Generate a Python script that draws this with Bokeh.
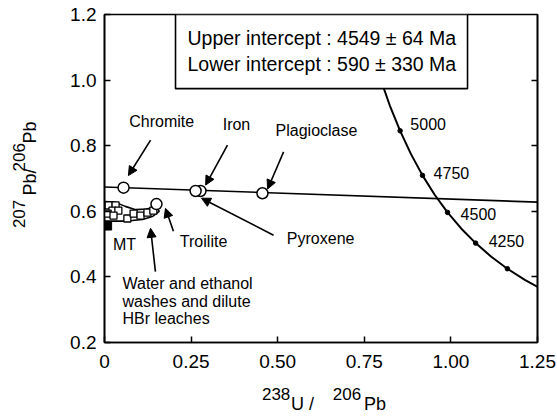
import math
from bokeh.plotting import figure
from bokeh.models import Range1d, LinearAxis, FixedTicker, Arrow, NormalHead, ColumnDataSource
from bokeh.core.properties import value
from bokeh.embed import file_html
from bokeh.resources import INLINE

FONT = "Liberation Sans"
NB = "\u00a0"

# ---- data ----
x_ticks = [0, 0.25, 0.5, 0.75, 1.0, 1.25]
x_tick_labels = ["0", "0.25", "0.50", "0.75", "1.00", "1.25"]
y_ticks = [0.2, 0.4, 0.6, 0.8, 1.0, 1.2]
y_tick_labels = ["0.2", "0.4", "0.6", "0.8", "1.0", "1.2"]

# concordia (age in Ma, 238U/206Pb, 207Pb/206Pb)
conc_age = [3750, 3875, 4000, 4125, 4250, 4375, 4500, 4625, 4750, 4875, 5000, 5125, 5250]
conc_x = [1.2673, 1.2134, 1.1630, 1.1157, 1.0714, 1.0296, 0.9903, 0.9531, 0.9180, 0.8848, 0.8534, 0.8234, 0.7950]
conc_y = [0.3600, 0.3910, 0.4249, 0.4622, 0.5030, 0.5477, 0.5967, 0.6505, 0.7095, 0.7743, 0.8454, 0.9233, 1.0091]

mark_age = [4000, 4250, 4500, 4750, 5000]
mark_x = [1.1630, 1.0714, 0.9903, 0.9180, 0.8534]
mark_y = [0.4249, 0.5030, 0.5967, 0.7095, 0.8454]
label_age = ["4250", "4500", "4750", "5000"]
label_age_x = [1.109, 1.028, 0.950, 0.883]
label_age_y = [0.508, 0.593, 0.718, 0.865]

# discordia line
disc_x = [0.0, 1.25]
disc_y = [0.674, 0.628]

# mineral separates (open circles)
min_names = ["Chromite", "Iron", "Pyroxene", "Plagioclase", "Troilite"]
min_x = [0.055, 0.277, 0.263, 0.456, 0.150]
min_y = [0.672, 0.662, 0.662, 0.655, 0.622]

# washes and leaches (open squares)
wash_x = [0.012, 0.032, 0.023, 0.040, 0.009, 0.026, 0.066, 0.084, 0.104, 0.124, 0.141]
wash_y = [0.618, 0.618, 0.602, 0.602, 0.593, 0.587, 0.578, 0.593, 0.587, 0.596, 0.602]
mt_x = [0.009]
mt_y = [0.555]

# envelope around the washes
env_x = [0.0, 0.03, 0.06, 0.09, 0.12, 0.15, 0.158, 0.14, 0.11, 0.08, 0.05, 0.02, 0.0]
env_y = [0.630, 0.628, 0.615, 0.605, 0.607, 0.613, 0.600, 0.585, 0.575, 0.572, 0.570, 0.570, 0.570]

# labels
lab_text = ["Chromite", "Iron", "Plagioclase", "Troilite", "Pyroxene", "MT"]
lab_x = [0.165, 0.381, 0.612, 0.286, 0.624, 0.058]
lab_y = [0.874, 0.865, 0.846, 0.508, 0.518, 0.499]
wash_lines = ["Water and ethanol", "washes and dilute", "HBr leaches"]
wash_lines_x = [0.052, 0.052, 0.052]
wash_lines_y = [0.380, 0.325, 0.273]

# arrows (start -> end)
arr_x0 = [0.133, 0.355, 0.517, 0.488, 0.199, 0.147]
arr_y0 = [0.817, 0.802, 0.781, 0.527, 0.539, 0.416]
arr_x1 = [0.069, 0.292, 0.471, 0.280, 0.176, 0.133]
arr_y1 = [0.709, 0.680, 0.668, 0.640, 0.609, 0.548]

box_lines = ["Upper intercept : 4549 \u00b1 64 Ma", "Lower intercept : 590 \u00b1 330 Ma"]

# axis titles, split into superscript row and main row
x_title_sup = "238" + NB * 9 + "206" + NB * 4
x_title_main = NB * 7 + "U /" + NB * 10 + "Pb"
y_title_main = NB * 8 + "Pb/" + NB * 5 + "Pb"
y_title_sup = "207" + NB * 6 + "206" + NB * 3

# ---- figure ----
p = figure(width=557, height=418, x_range=Range1d(0, 1.25), y_range=Range1d(0.2, 1.2),
           output_backend="svg", toolbar_location=None,
           min_border_left=104, min_border_right=20, min_border_top=14, min_border_bottom=76)
p.background_fill_color = "white"
p.border_fill_color = "white"
p.outline_line_color = "black"
p.outline_line_width = 1.6
p.grid.visible = False

for ax, ticks, labs in ((p.xaxis[0], x_ticks, x_tick_labels), (p.yaxis[0], y_ticks, y_tick_labels)):
    ax.ticker = FixedTicker(ticks=ticks)
    ax.major_label_overrides = {t: l for t, l in zip(ticks, labs)}
    ax.major_tick_in = 6
    ax.major_tick_out = 0
    ax.minor_tick_line_color = None
    ax.axis_line_width = 1.6
    ax.major_tick_line_width = 1.5
    ax.major_label_text_font = FONT
    ax.major_label_text_font_size = "19px"
    ax.major_label_text_color = "black"
    ax.axis_label_text_font = FONT
    ax.axis_label_text_font_style = "normal"
    ax.axis_label_text_color = "black"
p.xaxis.major_label_standoff = 12
p.yaxis.major_label_standoff = 8

p.xaxis.axis_label = x_title_sup
p.xaxis.axis_label_text_font_size = "17px"
p.xaxis.axis_label_standoff = 14
p.yaxis.axis_label = y_title_main
p.yaxis.axis_label_text_font_size = "18px"
p.yaxis.axis_label_standoff = 27


def title_axis(text, size, standoff):
    return LinearAxis(ticker=FixedTicker(ticks=[]), axis_line_color=None, major_tick_line_color=None,
                      minor_tick_line_color=None, major_label_text_color=None,
                      major_label_standoff=0, axis_label=text, axis_label_text_font=FONT,
                      axis_label_text_font_size=size, axis_label_text_font_style="normal",
                      axis_label_text_color="black", axis_label_standoff=standoff)


p.add_layout(title_axis(x_title_main, "18px", -13), "below")
p.add_layout(title_axis(y_title_sup, "17px", -11), "left")

r_ax = LinearAxis(ticker=FixedTicker(ticks=[0.4, 0.6, 0.8, 1.0]), major_tick_in=6, major_tick_out=0,
                  minor_tick_line_color=None, major_label_text_color=None,
                  major_label_overrides={0.4: "", 0.6: "", 0.8: "", 1.0: ""},
                  axis_line_width=1.6, major_tick_line_width=1.5)
p.add_layout(r_ax, "right")

# concordia
p.line(conc_x, conc_y, line_color="black", line_width=2)
p.scatter(mark_x, mark_y, size=4.5, marker="circle", fill_color="black", line_color="black")

# discordia
p.line(disc_x, disc_y, line_color="black", line_width=1.6)

# envelope
p.line(env_x, env_y, line_color="black", line_width=1.6)

# points
p.scatter(wash_x, wash_y, marker="square", size=7, fill_color="white", line_color="black", line_width=1.3)
p.scatter(mt_x, mt_y, marker="square", size=8, fill_color="black", line_color="black")
p.scatter(min_x, min_y, marker="circle", size=11, fill_color="white", line_color="black", line_width=1.5)

# labels
p.text(x=lab_x, y=lab_y, text=lab_text, text_font=value(FONT), text_font_size="16px",
       text_align="center", text_baseline="middle", text_color="black")
p.text(x=wash_lines_x, y=wash_lines_y, text=wash_lines, text_font=value(FONT), text_font_size="16px",
       text_align="left", text_baseline="middle", text_color="black")
p.text(x=label_age_x, y=label_age_y, text=label_age, text_font=value(FONT), text_font_size="16px",
       text_align="left", text_baseline="middle", text_color="black")

# intercept box
p.quad(left=[0.205], right=[1.048], top=[1.2], bottom=[0.974], fill_color="white",
       line_color="black", line_width=1.6)
p.text(x=[0.2396, 0.2396], y=[1.127, 1.0476], text=box_lines, text_font=value(FONT),
       text_font_size="19.5px", text_align="left", text_baseline="middle", text_color="black")

# arrows
asrc = ColumnDataSource(dict(x0=arr_x0, y0=arr_y0, x1=arr_x1, y1=arr_y1))
p.add_layout(Arrow(end=NormalHead(size=9, fill_color="black", line_color="black", line_width=1),
                   x_start="x0", y_start="y0", x_end="x1", y_end="y1", source=asrc,
                   line_color="black", line_width=1.6))

open("out.html", "w").write(file_html(p, INLINE))
